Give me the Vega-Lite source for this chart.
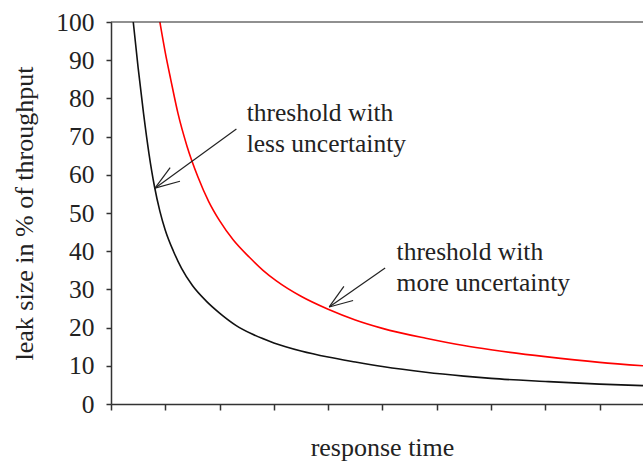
{
  "$schema": "https://vega.github.io/schema/vega-lite/v6.json",
  "autosize": "none",
  "width": 532,
  "height": 382,
  "padding": {"left": 111, "top": 22, "right": 0, "bottom": 57},
  "background": "white",
  "config": {
    "view": {"stroke": null},
    "font": "Liberation Serif",
    "axis": {"grid": false, "domainColor": "#333", "tickColor": "#333", "domainWidth": 1.5, "tickWidth": 1.5,
      "labelFont": "Liberation Serif", "titleFont": "Liberation Serif", "labelColor": "#222", "titleColor": "#222",
      "labelFontSize": 25.5, "titleFontSize": 26, "titleFontWeight": "normal", "labelOverlap": false}
  },
  "encoding": {
    "x": {"field": "x", "type": "quantitative", "scale": {"domain": [0, 9.8], "nice": false, "zero": false},
      "axis": {"title": "response time", "values": [0,1,2,3,4,5,6,7,8,9], "labels": false, "tickSize": 6,
        "titleBaseline": "alphabetic", "titlePadding": 45, "titleX": 271}},
    "y": {"field": "y", "type": "quantitative", "scale": {"domain": [0, 100], "nice": false},
      "axis": {"title": "leak size in % of throughput", "values": [0,10,20,30,40,50,60,70,80,90,100], "tickCount": 11, "tickSize": 5, "labelPadding": 12, "titlePadding": 18}}
  },
  "layer": [
    {
      "data": {"values": [
        {"s": "less", "x": 0.41, "y": 100},
        {"s": "less", "x": 0.5, "y": 88},
        {"s": "less", "x": 0.6, "y": 76},
        {"s": "less", "x": 0.7, "y": 65.5},
        {"s": "less", "x": 0.8, "y": 57},
        {"s": "less", "x": 0.9, "y": 50.5},
        {"s": "less", "x": 1.0, "y": 45.5},
        {"s": "less", "x": 1.15, "y": 40},
        {"s": "less", "x": 1.3, "y": 35.5},
        {"s": "less", "x": 1.5, "y": 31},
        {"s": "less", "x": 1.75, "y": 27},
        {"s": "less", "x": 2.0, "y": 23.8},
        {"s": "less", "x": 2.3, "y": 20.6},
        {"s": "less", "x": 2.6, "y": 18.3},
        {"s": "less", "x": 3.0, "y": 16},
        {"s": "less", "x": 3.5, "y": 13.9},
        {"s": "less", "x": 4.0, "y": 12.3},
        {"s": "less", "x": 4.5, "y": 11.0},
        {"s": "less", "x": 5.0, "y": 9.8},
        {"s": "less", "x": 5.8, "y": 8.3},
        {"s": "less", "x": 6.5, "y": 7.3},
        {"s": "less", "x": 7.0, "y": 6.7},
        {"s": "less", "x": 8.0, "y": 5.9},
        {"s": "less", "x": 9.0, "y": 5.2},
        {"s": "less", "x": 9.8, "y": 4.8},
        {"s": "more", "x": 0.9, "y": 100},
        {"s": "more", "x": 1.0, "y": 92},
        {"s": "more", "x": 1.1, "y": 85},
        {"s": "more", "x": 1.235, "y": 76},
        {"s": "more", "x": 1.4, "y": 67.5},
        {"s": "more", "x": 1.6, "y": 59.5},
        {"s": "more", "x": 1.8, "y": 53},
        {"s": "more", "x": 2.0, "y": 48},
        {"s": "more", "x": 2.25, "y": 43},
        {"s": "more", "x": 2.55, "y": 38.4},
        {"s": "more", "x": 2.8, "y": 35},
        {"s": "more", "x": 3.04, "y": 32.3},
        {"s": "more", "x": 3.5, "y": 28.2},
        {"s": "more", "x": 4.0, "y": 24.8},
        {"s": "more", "x": 4.5, "y": 22.0},
        {"s": "more", "x": 5.0, "y": 19.8},
        {"s": "more", "x": 5.8, "y": 17.2},
        {"s": "more", "x": 6.5, "y": 15.3},
        {"s": "more", "x": 7.0, "y": 14.2},
        {"s": "more", "x": 8.0, "y": 12.4},
        {"s": "more", "x": 9.0, "y": 10.9},
        {"s": "more", "x": 9.8, "y": 10.0}
      ]},
      "mark": {"type": "line", "strokeWidth": 1.6, "interpolate": "monotone"},
      "encoding": {
        "color": {"field": "s", "type": "nominal", "scale": {"domain": ["less", "more"], "range": ["#111111", "#ff0000"]}, "legend": null}
      }
    },
    {
      "data": {"values": [
        {"x": 2.31, "y": 72.0, "x2": 0.81, "y2": 56.5},
        {"x": 1.09, "y": 61.9, "x2": 0.81, "y2": 56.5},
        {"x": 1.27, "y": 58.3, "x2": 0.81, "y2": 56.5},
        {"x": 5.05, "y": 35.6, "x2": 4.02, "y2": 25.4},
        {"x": 4.29, "y": 30.8, "x2": 4.02, "y2": 25.4},
        {"x": 4.46, "y": 27.1, "x2": 4.02, "y2": 25.4},
        {"x": 0, "y": 100, "x2": 9.8, "y2": 100}
      ]},
      "mark": {"type": "rule", "color": "#222", "strokeWidth": 1.2},
      "encoding": {
        "x2": {"field": "x2"},
        "y2": {"field": "y2"}
      }
    },
    {
      "data": {"values": [
        {"x": 2.5, "y": 74.0, "t": ["threshold with", "less uncertainty"]},
        {"x": 5.26, "y": 37.8, "t": ["threshold with", "more uncertainty"]}
      ]},
      "mark": {"type": "text", "align": "left", "baseline": "alphabetic", "fontSize": 25.5, "lineHeight": 31, "color": "#222", "font": "Liberation Serif"},
      "encoding": {
        "text": {"field": "t"}
      }
    }
  ]
}
